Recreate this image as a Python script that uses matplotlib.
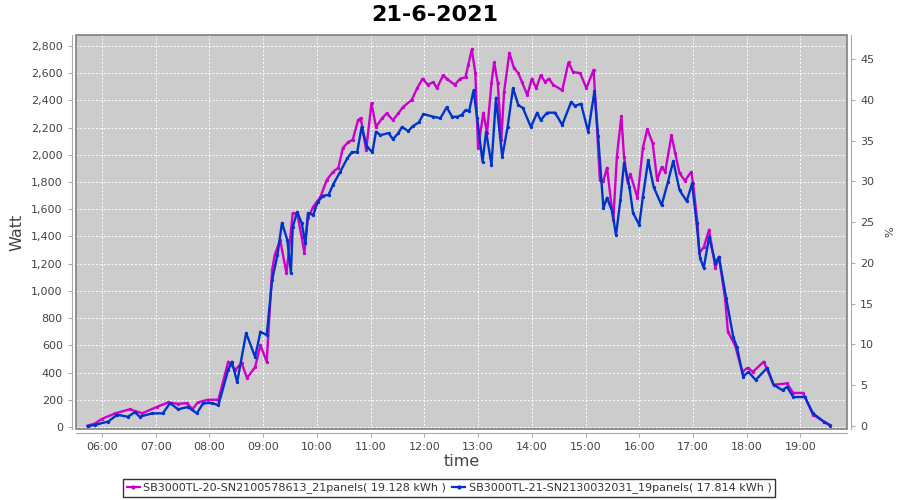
import matplotlib
matplotlib.use("Agg")
import matplotlib.pyplot as plt
import matplotlib.dates as mdates
from matplotlib.patches import Rectangle
import pandas as pd

title = "21-6-2021"
series1_label = "SB3000TL-20-SN2100578613_21panels( 19.128 kWh )"
series2_label = "SB3000TL-21-SN2130032031_19panels( 17.814 kWh )"

s1_times = ["05:44", "05:52", "06:00", "06:15", "06:31", "06:45", "07:01", "07:14", "07:25", "07:35",
            "07:41", "07:47", "07:58", "08:10", "08:21", "08:29", "08:36", "08:42", "08:51", "08:57",
            "09:04", "09:10", "09:13", "09:19", "09:26", "09:30", "09:33", "09:38", "09:43", "09:46",
            "09:50", "09:56", "10:04", "10:11", "10:18", "10:24", "10:29", "10:35", "10:40", "10:46",
            "10:49", "10:55", "11:01", "11:06", "11:13", "11:18", "11:25", "11:31", "11:36", "11:46",
            "11:52", "11:58", "12:04", "12:10", "12:14", "12:21", "12:25", "12:34", "12:40", "12:46",
            "12:49", "12:53", "12:57", "13:00", "13:06", "13:10", "13:15", "13:18", "13:22", "13:26",
            "13:29", "13:35", "13:40", "13:45", "13:49", "13:55", "14:00", "14:05", "14:10", "14:15",
            "14:19", "14:24", "14:34", "14:41", "14:46", "14:54", "15:01", "15:09", "15:13", "15:16",
            "15:20", "15:24", "15:31", "15:35", "15:40", "15:43", "15:47", "15:50", "15:58", "16:04",
            "16:09", "16:15", "16:20", "16:25", "16:29", "16:36", "16:40", "16:45", "16:51", "16:58",
            "17:00", "17:05", "17:07", "17:12", "17:18", "17:25", "17:29", "17:36", "17:39", "17:47",
            "17:55", "18:01", "18:07", "18:19", "18:30", "18:45", "18:52", "19:03", "19:14", "19:26",
            "19:33"]
s1_watt = [10, 25, 60, 100, 130, 100, 147, 180, 170, 175,
           130, 180, 200, 200, 480, 420, 470, 360, 440, 600,
           480, 1155, 1265, 1375, 1130, 1375, 1570, 1570, 1395, 1280,
           1535, 1620, 1690, 1815, 1875, 1905, 2050, 2095, 2110, 2255,
           2270, 2035, 2380, 2205, 2270, 2305, 2255, 2305, 2350, 2405,
           2490, 2560, 2515, 2535, 2490, 2585, 2560, 2515, 2560, 2570,
           2660, 2775, 2600, 2050, 2310, 2160, 2530, 2680, 2530, 2110,
           2460, 2750, 2640, 2600, 2535, 2440, 2560, 2490, 2585, 2535,
           2560, 2515, 2475, 2680, 2610, 2600, 2490, 2625, 2180, 1815,
           1810, 1905, 1520, 1985, 2285, 1985, 1795, 1860, 1685, 2050,
           2190, 2085, 1815, 1910, 1875, 2145, 2015, 1865, 1810, 1875,
           1795, 1500, 1280, 1320, 1450, 1170, 1250, 935, 700, 600,
           405, 435, 405, 480, 310, 320, 250, 250, 90, 40,
           15]

s2_times = ["05:44", "05:52", "06:07", "06:17", "06:29", "06:37", "06:42", "06:56", "07:08", "07:16",
            "07:25", "07:36", "07:46", "07:53", "08:03", "08:10", "08:21", "08:25", "08:31", "08:41",
            "08:51", "08:57", "09:04", "09:10", "09:16", "09:21", "09:27", "09:31", "09:33", "09:38",
            "09:43", "09:47", "09:50", "09:56", "10:01", "10:07", "10:13", "10:18", "10:26", "10:34",
            "10:39", "10:45", "10:50", "10:56", "11:02", "11:06", "11:11", "11:20", "11:25", "11:31",
            "11:35", "11:42", "11:47", "11:54", "11:59", "12:10", "12:18", "12:25", "12:31", "12:37",
            "12:42", "12:46", "12:50", "12:55", "12:59", "13:05", "13:09", "13:15", "13:20", "13:27",
            "13:33", "13:39", "13:45", "13:50", "13:59", "14:06", "14:10", "14:17", "14:26", "14:34",
            "14:44", "14:48", "14:55", "15:03", "15:10", "15:14", "15:20", "15:24", "15:30", "15:34",
            "15:39", "15:43", "15:49", "15:53", "16:00", "16:04", "16:10", "16:16", "16:25", "16:32",
            "16:38", "16:45", "16:53", "16:59", "17:04", "17:08", "17:12", "17:18", "17:25", "17:29",
            "17:37", "17:45", "17:49", "17:56", "18:02", "18:10", "18:23", "18:30", "18:40", "18:45",
            "18:52", "19:05", "19:14", "19:26", "19:33"]
s2_watt = [5, 15, 40, 90, 75, 110, 75, 100, 100, 175,
           130, 147, 100, 175, 175, 160, 420, 480, 330, 690,
           515, 700, 675, 1080, 1265, 1500, 1375, 1130, 1470, 1580,
           1500, 1350, 1570, 1560, 1655, 1700, 1705, 1780, 1875, 1975,
           2020, 2020, 2205, 2060, 2020, 2170, 2145, 2160, 2115, 2160,
           2205, 2175, 2210, 2240, 2300, 2280, 2270, 2350, 2280, 2280,
           2295, 2330, 2320, 2475, 2270, 1950, 2170, 1925, 2420, 1985,
           2205, 2490, 2365, 2345, 2205, 2310, 2255, 2310, 2310, 2220,
           2390, 2360, 2375, 2170, 2470, 2140, 1610, 1685, 1580, 1410,
           1670, 1940, 1765, 1575, 1485, 1690, 1960, 1765, 1630, 1800,
           1955, 1740, 1660, 1790, 1500, 1240, 1170, 1395, 1205, 1250,
           950, 660, 590, 370, 405, 345, 435, 310, 270, 295,
           220, 220, 100, 40, 10]

watt_ticks = list(range(0, 2801, 200))
pct_ticks = list(range(0, 46, 5))
hour_ticks = ["%02d:00" % h for h in range(6, 20)]

day = "2021-06-21 "
t1 = pd.to_datetime([day + t for t in s1_times])
t2 = pd.to_datetime([day + t for t in s2_times])

fig = plt.figure(figsize=(9, 5), dpi=100)
fig.patch.set_facecolor("white")
ax = fig.add_axes([76 / 900, 1 - 429 / 500, (847 - 76) / 900, (429 - 35) / 500])
ax.set_facecolor("#cccccc")

ax.plot(t1, s1_watt, color="#cc00cc", lw=1.7, zorder=3, solid_joinstyle="round")
ax.plot(t2, s2_watt, color="#0033cc", lw=1.7, zorder=4, solid_joinstyle="round")
ax.plot(t1, s1_watt, ls="none", marker="o", ms=1.4, color="#cc00cc", zorder=3)
ax.plot(t2, s2_watt, ls="none", marker="o", ms=1.4, color="#0033cc", zorder=4)

ax.set_ylim(-15, 2881)
ax.set_yticks(watt_ticks)
ax.set_yticklabels([f"{v:,}" for v in watt_ticks])
ax.set_xlim(pd.Timestamp(day + "05:31"), pd.Timestamp(day + "19:52"))
ax.set_xticks(pd.to_datetime([day + h for h in hour_ticks]))
ax.xaxis.set_major_formatter(mdates.DateFormatter("%H:%M"))

ax.grid(True, color="white", ls=(0, (2, 2)), lw=0.7)
ax.set_axisbelow(True)

for side in ["left", "bottom", "right"]:
    ax.spines[side].set_position(("outward", 3))
    ax.spines[side].set_color("#aaaaaa")
ax.spines["top"].set_visible(False)
ax.spines["right"].set_visible(False)
ax.add_patch(Rectangle((0, 0), 1, 1, transform=ax.transAxes, fill=False,
                       ec="#808080", lw=1.2, clip_on=False, zorder=5))

ax.tick_params(axis="both", labelsize=8, colors="#444444", length=3, width=0.8)
ax.tick_params(axis="both", color="#aaaaaa")
ax.set_ylabel("Watt", fontsize=11.5, color="#444444", labelpad=5)
ax.set_xlabel("time", fontsize=11.5, color="#444444", labelpad=1)
fig.text(435 / 900, 1 - 15 / 500, title, fontsize=16, fontweight="bold",
         ha="center", va="center")

ax2 = ax.twinx()
ax2.set_ylim(-0.37, 47.94)
ax2.set_yticks(pct_ticks)
ax2.set_ylabel("%", fontsize=8, color="#444444", labelpad=8)
for side in ["left", "bottom", "top"]:
    ax2.spines[side].set_visible(False)
ax2.spines["right"].set_position(("outward", 3))
ax2.spines["right"].set_color("#aaaaaa")
ax2.tick_params(axis="y", labelsize=8, colors="#444444", length=3, width=0.8)
ax2.tick_params(axis="y", color="#aaaaaa")

h1, = ax.plot([], [], color="#cc00cc", lw=1.6, marker="o", ms=2)
h2, = ax.plot([], [], color="#0033cc", lw=1.6, marker="o", ms=2)
leg = fig.legend([h1, h2], [series1_label, series2_label], loc="center",
                 bbox_to_anchor=(449 / 900, 1 - 488 / 500), ncol=2, fontsize=8,
                 frameon=True, fancybox=False, edgecolor="black", handlelength=1.2,
                 handletextpad=0.3, columnspacing=0.5, borderpad=0.3)
leg.get_frame().set_linewidth(1.0)
for t in leg.get_texts():
    t.set_color("#333333")

fig.savefig("out.png", dpi=100)
